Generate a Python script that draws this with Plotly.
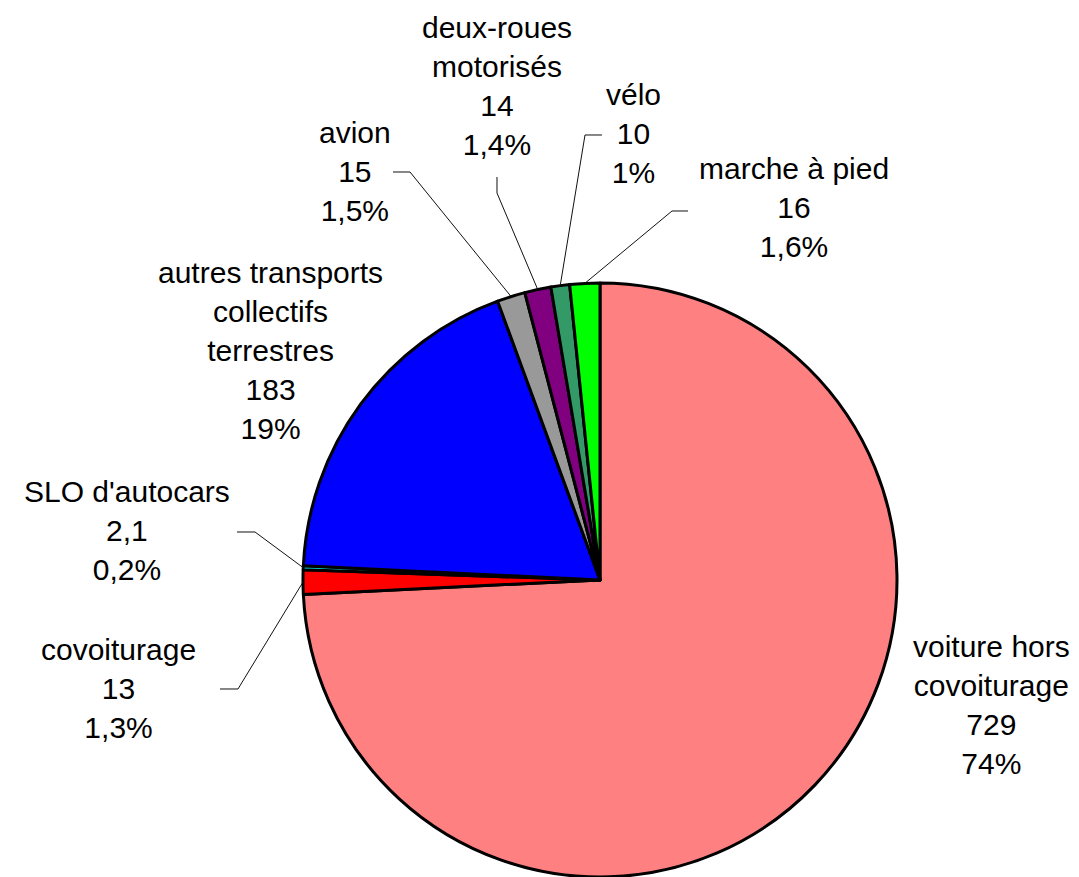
import math
import plotly.graph_objects as go

# ---- data ----
categories = ["voiture hors<br>covoiturage", "covoiturage", "SLO d'autocars",
              "autres transports<br>collectifs<br>terrestres", "avion",
              "deux-roues<br>motorisés", "vélo", "marche à pied"]
values = [729, 13, 2.1, 183, 15, 14, 10, 16]
value_labels = ["729", "13", "2,1", "183", "15", "14", "10", "16"]
pct_labels = ["74%", "1,3%", "0,2%", "19%", "1,5%", "1,4%", "1%", "1,6%"]
colors = ["#FF8080", "#FF0000", "#00FFFF", "#0000FF", "#999999",
          "#800080", "#339966", "#00FF00"]

# ---- layout (pixels) ----
W, H = 1079, 877
CX, CY, R = 600, 580, 297
# label centre positions
label_pos = [(992, 705), (118, 688), (127, 530), (270, 350), (355, 171),
             (497, 86), (633, 134), (794, 208)]
# leader lines: list of elbow points (from label side), None = no leader
leader_pts = [None,
              [(220, 689), (238, 689)],
              [(237, 532), (255, 532)],
              None,
              [(393, 172), (410, 172)],
              [(497, 177), (497, 193)],
              [(602, 135), (585, 135)],
              [(688, 211), (672, 211)]]


def px(x):
    return x / W


def py(y):
    return 1 - y / H


fig = go.Figure(go.Pie(
    values=values,
    labels=[c.replace("<br>", " ") for c in categories],
    sort=False,
    direction="clockwise",
    rotation=0,
    textinfo="none",
    hoverinfo="label+value+percent",
    marker=dict(colors=colors, line=dict(color="black", width=3)),
    domain=dict(x=[px(CX - R), px(CX + R)], y=[py(CY + R), py(CY - R)]),
    showlegend=False,
))

total = sum(values)
cum = 0.0
shapes = []
annotations = []
for i, v in enumerate(values):
    mid = (cum + v / 2) / total * 360.0
    cum += v
    ex = CX + R * math.sin(math.radians(mid))
    ey = CY - R * math.cos(math.radians(mid))
    pts = leader_pts[i]
    if pts:
        path_pts = pts + [(ex, ey)]
        d = "M " + " L ".join(f"{px(a):.5f},{py(b):.5f}" for a, b in path_pts)
        shapes.append(dict(type="path", xref="paper", yref="paper", path=d,
                           line=dict(color="#111111", width=1)))
    lx, ly = label_pos[i]
    annotations.append(dict(
        x=px(lx), y=py(ly), xref="paper", yref="paper",
        text=f"{categories[i]}<br>{value_labels[i]}<br>{pct_labels[i]}",
        showarrow=False, xanchor="center", yanchor="middle", align="center",
        font=dict(family="Liberation Sans, Arial, sans-serif", size=30, color="black"),
    ))

fig.update_layout(
    width=W, height=H,
    margin=dict(l=0, r=0, t=0, b=0),
    paper_bgcolor="white", plot_bgcolor="white",
    shapes=shapes, annotations=annotations,
)

fig.write_html("out.html",
               config={"displayModeBar": False},
               post_script="document.body.style.margin='0';document.body.style.overflow='hidden';")
